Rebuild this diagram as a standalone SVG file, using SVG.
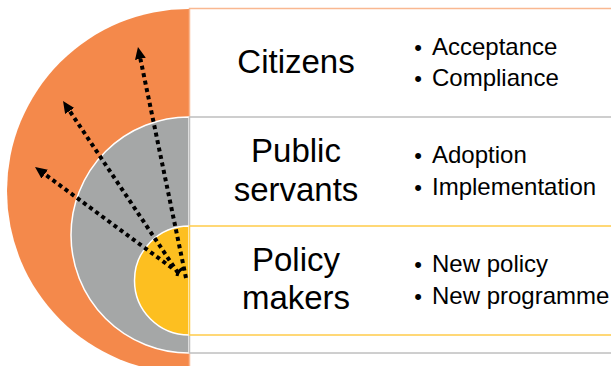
<svg xmlns="http://www.w3.org/2000/svg" width="611" height="366" viewBox="0 0 611 366">
<style>
.box{fill:#FFFFFF;stroke-width:1.5}
.title{font-family:"Liberation Sans",Arial,sans-serif;font-size:33px;fill:#000;text-anchor:middle}
.item{font-family:"Liberation Sans",Arial,sans-serif;font-size:24px;fill:#000}
.bul{font-family:"Liberation Sans",Arial,sans-serif;font-size:22px;fill:#000;text-anchor:middle}
.dot{fill:none;stroke:#000;stroke-width:4;stroke-dasharray:4 3.6;marker-end:url(#ah)}
</style>
<defs>
<marker id="ah" markerUnits="userSpaceOnUse" markerWidth="13" markerHeight="12" refX="0" refY="5.5" orient="auto" viewBox="0 0 13 12">
<path d="M0,0 L12,5.5 L0,11 z" fill="#000"/>
</marker>
</defs>
<rect width="611" height="366" fill="#FFFFFF"/>
<g id="citizens">
<path d="M189,9 A182,182 0 0 0 189,373 Z" fill="#F4894B"/>
<rect class="box" x="189.5" y="8.5" width="430" height="370" stroke="#F9B891"/>
<text class="title" x="296" y="73">Citizens</text>
<text class="bul" x="418" y="55">•</text>
<text class="item" x="432" y="55">Acceptance</text>
<text class="bul" x="418" y="86">•</text>
<text class="item" x="432" y="86">Compliance</text>
</g>
<g id="public-servants">
<path d="M189,117 A118,118 0 0 0 189,353 Z" fill="#A5A7A7" stroke="#FFFFFF" stroke-width="1.5"/>
<rect class="box" x="189.5" y="117" width="430" height="236" stroke="#BFBFBF"/>
<text class="title" x="296" y="162">Public</text>
<text class="title" x="296" y="201">servants</text>
<text class="bul" x="418" y="163">•</text>
<text class="item" x="432" y="163">Adoption</text>
<text class="bul" x="418" y="195">•</text>
<text class="item" x="432" y="195">Implementation</text>
</g>
<g id="policy-makers">
<path d="M189,226 A54.5,54.5 0 0 0 189,335 Z" fill="#FDBF20" stroke="#FFFFFF" stroke-width="1.5"/>
<rect class="box" x="189.5" y="226" width="430" height="109" stroke="#FFCB4A"/>
<text class="title" x="296" y="271">Policy</text>
<text class="title" x="296" y="309">makers</text>
<text class="bul" x="418" y="272">•</text>
<text class="item" x="432" y="272">New policy</text>
<text class="bul" x="418" y="304">•</text>
<text class="item" x="432" y="304">New programme</text>
</g>
<g id="connectors">
<line class="dot" x1="186" y1="278" x2="140.4" y2="58.8"/>
<line class="dot" x1="178" y1="273" x2="69.7" y2="111"/>
<line class="dot" x1="172" y1="268" x2="44.7" y2="174.1"/>
<path d="M177,276 Q178,270 184,268" fill="none" stroke="#000" stroke-width="3"/>
</g>
</svg>
